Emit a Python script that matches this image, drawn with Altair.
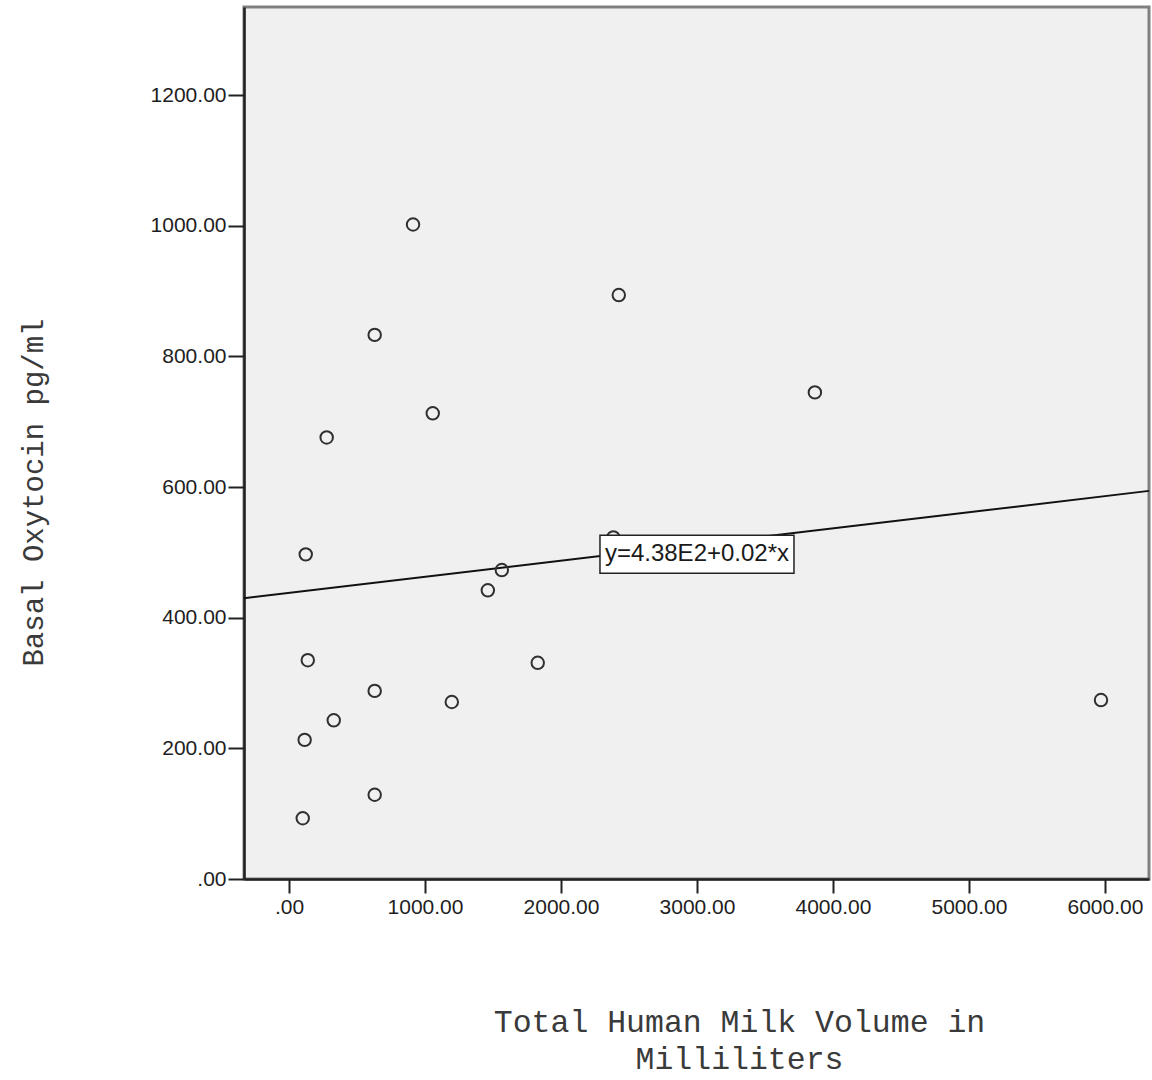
import altair as alt
import pandas as pd

# Total human milk volume (ml) and basal oxytocin (pg/ml) per participant
milk_ml = [912, 2425, 630, 3867, 1057, 277, 123, 1565, 1462, 138,
           1829, 630, 1197, 5971, 329, 115, 630, 101, 2385]
oxytocin = [1002, 894, 833, 745, 713, 676, 497, 473, 442, 335,
            331, 288, 271, 274, 243, 213, 129, 93, 523]

# Linear fit: y = INTERCEPT + SLOPE * x
INTERCEPT = 438.0
SLOPE = 0.0247

# Axis ranges and tick values
X_DOMAIN = [-331, 6324]
Y_DOMAIN = [0, 1335]
X_TICKS = [0, 1000, 2000, 3000, 4000, 5000, 6000]
Y_TICKS = [0, 200, 400, 600, 800, 1000, 1200]

# Where the fit equation is written
LABEL_X = 3000
LABEL_Y = 497
fit_label = f"y={INTERCEPT / 100:.2f}E2+{SLOPE:.2f}*x"

points = pd.DataFrame({"milk": milk_ml, "oxytocin": oxytocin})
fit = pd.DataFrame({"milk": X_DOMAIN,
                    "oxytocin": [INTERCEPT + SLOPE * v for v in X_DOMAIN]})
note = pd.DataFrame({"milk": [LABEL_X], "oxytocin": [LABEL_Y], "text": [fit_label]})

label_expr = "datum.value == 0 ? '.00' : format(datum.value, '.2f')"

x_enc = alt.X(
    "milk:Q",
    scale=alt.Scale(domain=X_DOMAIN, nice=False, zero=False),
    axis=alt.Axis(
        values=X_TICKS, labelExpr=label_expr, tickSize=14, labelPadding=3,
        title=["Total Human Milk Volume in", "Milliliters"],
        titleX=495, titleY=152, titleAlign="center", titleBaseline="alphabetic",
        titleFontSize=31.5, titleLineHeight=37,
    ),
)
y_enc = alt.Y(
    "oxytocin:Q",
    scale=alt.Scale(domain=Y_DOMAIN, nice=False, zero=False),
    axis=alt.Axis(
        values=Y_TICKS, labelExpr=label_expr, tickSize=16, labelPadding=2,
        title="Basal Oxytocin pg/ml",
        titleX=-202, titleY=485, titleAngle=270, titleAlign="center",
        titleBaseline="alphabetic", titleFontSize=29,
    ),
)

fit_line = alt.Chart(fit).mark_line(color="#111111", strokeWidth=2).encode(
    x=x_enc, y=y_enc
)

scatter = alt.Chart(points).mark_point(
    shape="circle", filled=False, size=155, strokeWidth=2, color="#303030", opacity=1
).encode(x="milk:Q", y="oxytocin:Q")

box = alt.Chart(note).mark_rect(
    fill="white", stroke="#222222", strokeWidth=1.5,
    xOffset=-97, x2Offset=97, yOffset=-19, y2Offset=19,
).encode(x="milk:Q", x2="milk:Q", y="oxytocin:Q", y2="oxytocin:Q")

box_text = alt.Chart(note).mark_text(
    font="Liberation Sans", fontSize=24, color="#1a1a1a",
    align="center", baseline="middle",
).encode(x="milk:Q", y="oxytocin:Q", text="text:N")

chart = (
    alt.layer(fit_line, scatter, box, box_text)
    .properties(
        width=905, height=872,
        autosize=alt.AutoSizeParams(type="none"),
        padding={"left": 244, "top": 7, "right": 3, "bottom": 201},
        background="white",
    )
    .configure_view(fill="#f0f0f0", stroke="#808080", strokeWidth=3)
    .configure_axis(
        grid=False,
        domainColor="#222222", domainWidth=2.5,
        tickColor="#222222", tickWidth=2,
        labelFont="Liberation Sans", labelFontSize=21, labelColor="#1e1e1e",
        titleFont="Liberation Mono", titleFontWeight="normal", titleColor="#3a3a3a",
    )
)

chart.save("out.html", embed_options={"renderer": "svg", "actions": False})
